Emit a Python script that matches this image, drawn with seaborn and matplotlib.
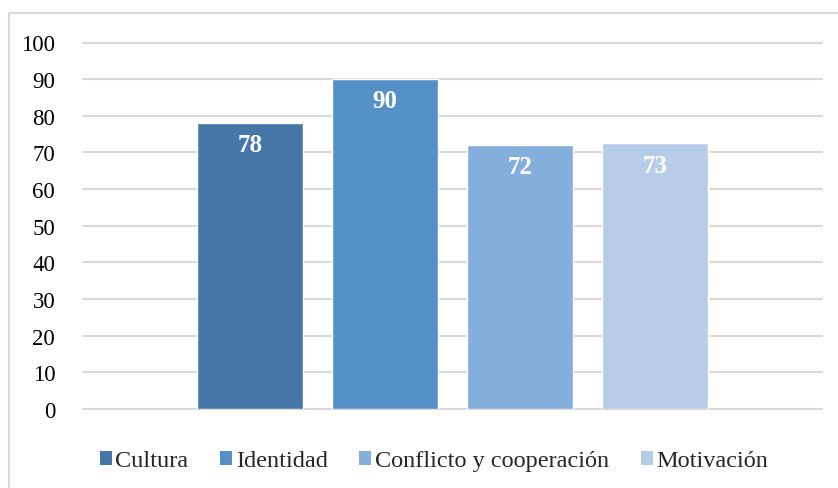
import pandas as pd
import seaborn as sns
import matplotlib.pyplot as plt
from matplotlib.patches import Rectangle, Patch

categorias = ["Cultura", "Identidad", "Conflicto y cooperación", "Motivación"]
valores = [78, 90, 72, 72.5]
etiquetas = ["78", "90", "72", "73"]
colores = ["#4677A8", "#5591C8", "#84AEDB", "#B7CDE7"]

df = pd.DataFrame({"grupo": [""] * 4, "serie": categorias, "valor": valores})

sns.set_theme(style="white")
plt.rcParams['font.family'] = ['Liberation Serif', 'DejaVu Serif']

fig = plt.figure(figsize=(8.38, 4.89), dpi=100)
W, H = 838, 489
ax = fig.add_axes([83 / W, 1 - 410 / H, (822 - 83) / W, (410 - 43.5) / H])

sns.barplot(data=df, x="grupo", y="valor", hue="serie", hue_order=categorias,
            palette=colores, width=0.73, gap=0.21, saturation=1,
            legend=False, ax=ax)

ax.set_xlim(-0.5, 0.5)
ax.set_ylim(0, 100)
ax.set_yticks(range(0, 101, 10))
ax.set_xticks([])
ax.set_xlabel("")
ax.set_ylabel("")
ax.tick_params(axis="y", labelsize=16.5, length=0, pad=20, labelcolor="black")
for s in ax.spines.values():
    s.set_visible(False)
for t in range(0, 101, 10):
    ax.axhline(t, color="#D9D9D9", lw=1.5, zorder=0, clip_on=False)

for cont, lab in zip(ax.containers, etiquetas):
    ax.bar_label(cont, labels=[lab], label_type="edge", padding=-24,
                 color="white", fontsize=18, fontweight="bold")

handles = [Patch(facecolor=c, edgecolor="none") for c in colores]
fig.legend(handles, categorias, loc="center", bbox_to_anchor=(434 / W, 1 - 462 / H),
           ncol=4, frameon=False, fontsize=17.5, handlelength=0.5, handleheight=0.5,
           handletextpad=0.15, columnspacing=1.3)

fig.add_artist(Rectangle((9 / W, -0.1), 1.2, 1 - 14 / H + 0.1, transform=fig.transFigure,
                         fill=False, edgecolor="#D9D9D9", lw=1.5))

fig.savefig("out.png", dpi=100)
